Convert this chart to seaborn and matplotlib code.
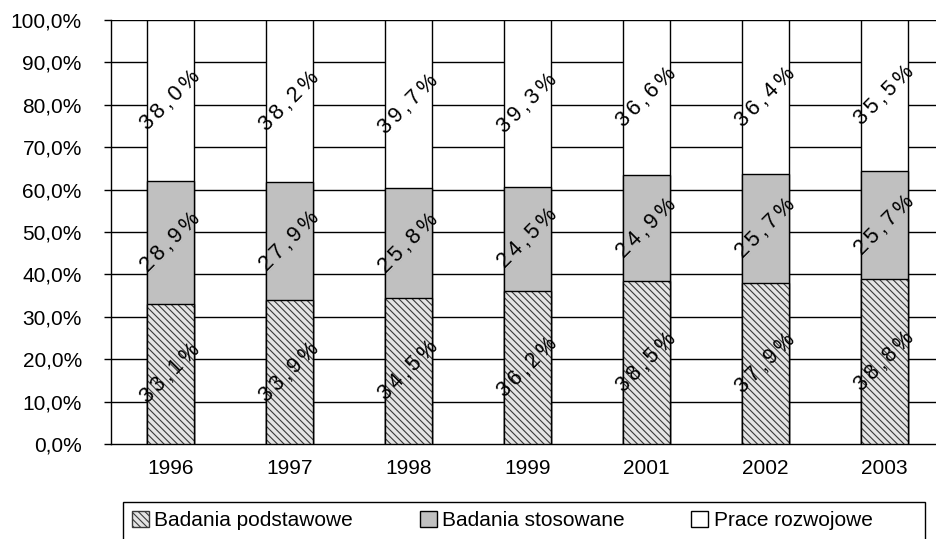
import numpy as np
import pandas as pd
import seaborn as sns
import matplotlib.pyplot as plt
from matplotlib.patches import Patch, Rectangle

years = ["1996", "1997", "1998", "1999", "2001", "2002", "2003"]
podstawowe = [33.1, 33.9, 34.5, 36.2, 38.5, 37.9, 38.8]
stosowane = [28.9, 27.9, 25.8, 24.5, 24.9, 25.7, 25.7]
rozwojowe = [38.0, 38.2, 39.7, 39.3, 36.6, 36.4, 35.5]

sns.set_style("white")
plt.rcParams['font.family'] = ['Liberation Sans', 'DejaVu Sans']
plt.rcParams['hatch.linewidth'] = 0.8
plt.rcParams['text.color'] = 'black'
plt.rcParams['xtick.color'] = 'black'
plt.rcParams['ytick.color'] = 'black'

df = pd.DataFrame({"year": years, "pod": podstawowe, "sto": stosowane, "roz": rozwojowe})
df["lvl2"] = df["pod"] + df["sto"]
df["lvl3"] = df["lvl2"] + df["roz"]

W, H = 937, 539
fig = plt.figure(figsize=(W / 100, H / 100), dpi=100)
# os wychodzi troche poza prawa krawedz obrazka (jak w oryginale)
ax = fig.add_axes([111/W, 1-444/H, 7*119/W, (444-20)/H])

# linie siatki za slupkami
for v in range(10, 101, 10):
    ax.axhline(v, color="black", lw=1.0, zorder=0)

w = 0.403
hatch = "\\\\\\\\\\"
hatch_bg = "#e4e4e4"
sns.barplot(data=df, x="year", y="lvl3", color="white", edgecolor="black", linewidth=1.0,
            width=w, ax=ax, zorder=2)
sns.barplot(data=df, x="year", y="lvl2", color="#c0c0c0", edgecolor="black", linewidth=1.0,
            width=w, ax=ax, zorder=3)
sns.barplot(data=df, x="year", y="pod", color=hatch_bg, saturation=1, edgecolor="#3a3a3a",
            linewidth=0, width=w, ax=ax, zorder=4, hatch=hatch)
sns.barplot(data=df, x="year", y="pod", fill=False, edgecolor="black", linewidth=1.0,
            width=w, ax=ax, zorder=5)

def fmt(v):
    return f"{v:.1f}%".replace(".", ",")

def spaced(s):
    return "\u2006".join(s)

for i in range(len(years)):
    b = podstawowe[i]
    m = stosowane[i]
    t = rozwojowe[i]
    for yc, val in [(b / 2, b), (b + m / 2, m), (b + m + t / 2, t)]:
        ax.text(i, yc, spaced(fmt(val)), rotation=45, ha="center", va="center",
                fontsize=15.5, zorder=6, rotation_mode="anchor")

ax.set_xlim(-0.5, len(years) - 0.5)
ax.set_ylim(0, 100)
ax.set_yticks(np.arange(0, 101, 10))
ax.set_yticklabels([fmt(v) for v in np.arange(0, 101, 10)], fontsize=15)
ax.set_xticks(range(len(years)))
ax.set_xticklabels(years, fontsize=15)
ax.set_xticks(np.arange(-0.5, len(years), 1), minor=True)
ax.tick_params(axis="x", which="major", length=0, pad=11)
ax.tick_params(axis="x", which="minor", length=5, width=1, color="black", direction="out")
ax.tick_params(axis="y", length=5, width=1, color="black", direction="out", left=True, pad=16)
ax.set_xlabel("")
ax.set_ylabel("")
for s in ["top", "right"]:
    ax.spines[s].set_visible(False)
for s in ["left", "bottom"]:
    ax.spines[s].set_color("black")
    ax.spines[s].set_linewidth(1.0)

# ramka legendy (dolna krawedz poza obrazkiem)
fig.patches.append(Rectangle((123/W, -0.05), (925-123)/W, 0.05 + (539-502)/H,
                             transform=fig.transFigure, facecolor="white",
                             edgecolor="black", lw=1.0, zorder=0))

handles = [
    Patch(facecolor=hatch_bg, edgecolor="#3a3a3a", hatch=hatch, label="Badania podstawowe"),
    Patch(facecolor="#c0c0c0", edgecolor="black", label="Badania stosowane"),
    Patch(facecolor="white", edgecolor="black", label="Prace rozwojowe"),
]
leg = fig.legend(handles=handles, loc="upper left", ncol=3,
                 bbox_to_anchor=(132/W, 1-511/H),
                 frameon=False, fontsize=15, handlelength=0.82, handleheight=0.82,
                 handletextpad=0.25, columnspacing=3.2,
                 borderaxespad=0, borderpad=0)

fig.savefig("out.png", dpi=100)
